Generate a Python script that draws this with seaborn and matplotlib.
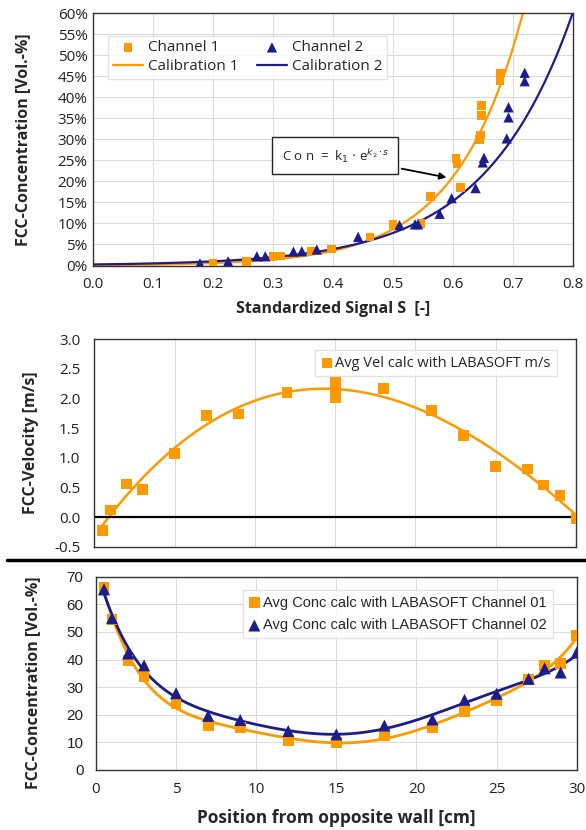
import numpy as np
import pandas as pd
import matplotlib
matplotlib.use("Agg")
import matplotlib.pyplot as plt
import seaborn as sns
from matplotlib.lines import Line2D
from matplotlib.ticker import FuncFormatter, MultipleLocator

sns.set_style("white")
plt.rcParams["font.family"] = ["Open Sans", "DejaVu Sans"]

ORANGE = "#FF9900"
NAVY = "#1C1C8A"

# --- top panel: calibration (standardized signal vs concentration in %)
ch1_s = [0.200, 0.256, 0.300, 0.312, 0.364, 0.398, 0.462, 0.500, 0.547, 0.563,
         0.605, 0.607, 0.613, 0.645, 0.646, 0.648, 0.648, 0.679, 0.680]
ch1_conc = [0.5, 1.0, 2.2, 2.3, 3.4, 3.9, 6.8, 9.7, 10.0, 16.4,
            25.4, 24.2, 18.6, 30.0, 31.0, 35.6, 38.0, 43.8, 45.7]
ch2_s = [0.178, 0.225, 0.273, 0.287, 0.334, 0.348, 0.373, 0.442, 0.511, 0.537,
         0.542, 0.578, 0.598, 0.638, 0.650, 0.652, 0.690, 0.693, 0.693, 0.720, 0.720]
ch2_conc = [0.5, 1.0, 2.2, 2.2, 3.3, 3.4, 3.8, 6.8, 9.6, 9.8,
            9.8, 12.3, 16.0, 18.4, 24.5, 25.6, 30.2, 35.2, 37.6, 43.8, 45.8]
# Con = k1 * exp(k2 * S), k1 in %
cal1_k1, cal1_k2 = 0.098, 8.95
cal2_k1, cal2_k2 = 0.254, 6.83

# --- middle panel: velocity profile
vel_pos = [0.5, 1, 2, 3, 5, 7, 9, 12, 15, 15, 15, 18, 21, 23, 25, 27, 28, 29, 30]
vel = [-0.22, 0.12, 0.56, 0.46, 1.07, 1.72, 1.74, 2.10, 2.29, 2.19, 2.01,
       2.17, 1.80, 1.38, 0.85, 0.81, 0.54, 0.37, -0.02]

# --- bottom panel: concentration profile
conc_pos = [0.5, 1, 2, 3, 5, 7, 9, 12, 15, 18, 21, 23, 25, 27, 28, 29, 30]
conc_ch01 = [66.0, 54.6, 39.7, 33.9, 24.1, 16.1, 15.5, 10.8, 9.9, 12.5,
             15.3, 21.3, 25.0, 32.9, 37.9, 38.5, 48.6]
conc_ch02 = [65.4, 55.0, 42.2, 37.9, 27.8, 19.6, 18.1, 14.1, 12.9, 16.1,
             18.3, 25.4, 27.6, 33.0, 36.8, 35.3, 42.5]

grid_kw = dict(color="#d9d9d9", lw=0.7)

fig = plt.figure(figsize=(5.86, 8.30), dpi=100)
ax1 = fig.add_axes([0.1592, 0.6801, 0.8180, 0.3042])
ax2 = fig.add_axes([0.1609, 0.3413, 0.8220, 0.2499])
ax3 = fig.add_axes([0.1638, 0.0723, 0.8203, 0.2329])

for ax in (ax1, ax2, ax3):
    for sp in ax.spines.values():
        sp.set_color("#333333")
        sp.set_linewidth(1.0)
    ax.tick_params(length=0, labelsize=11, colors="#222222")

# ---------------- top
s_grid = np.linspace(0, 0.8, 400)
sns.lineplot(x=s_grid, y=cal1_k1 * np.exp(cal1_k2 * s_grid), ax=ax1,
             color=ORANGE, lw=1.6, label="Calibration 1")
sns.lineplot(x=s_grid, y=cal2_k1 * np.exp(cal2_k2 * s_grid), ax=ax1,
             color=NAVY, lw=1.6, label="Calibration 2")
sns.scatterplot(x=ch1_s, y=ch1_conc, ax=ax1, marker="s", s=38, color=ORANGE,
                edgecolor="none", label="Channel 1", zorder=3)
sns.scatterplot(x=ch2_s, y=ch2_conc, ax=ax1, marker="^", s=55, color=NAVY,
                edgecolor="none", label="Channel 2", zorder=3)
ax1.set_xlim(0, 0.8)
ax1.set_ylim(0, 60)
ax1.xaxis.set_major_locator(MultipleLocator(0.1))
ax1.yaxis.set_major_locator(MultipleLocator(5))
ax1.xaxis.set_major_formatter(FuncFormatter(lambda v, _: f"{v:.1f}"))
ax1.yaxis.set_major_formatter(FuncFormatter(lambda v, _: f"{v:.0f}%"))
ax1.tick_params(axis="x", pad=8)
ax1.tick_params(axis="y", pad=4)
ax1.grid(True, **grid_kw)
ax1.set_axisbelow(True)
ax1.set_xlabel("Standardized Signal S  [-]", fontsize=11.5, fontweight="bold")
ax1.xaxis.set_label_coords(0.5, -0.14)
ax1.set_ylabel("FCC-Concentration [Vol.-%]", fontsize=11.5, fontweight="bold")
ax1.yaxis.set_label_coords(-0.13, 0.5)
h, l = ax1.get_legend_handles_labels()
order = [l.index(n) for n in ["Channel 1", "Calibration 1", "Channel 2", "Calibration 2"]]
ax1.legend([h[i] for i in order], [l[i] for i in order], ncol=2, loc="upper left",
           bbox_to_anchor=(0.015, 0.94), fontsize=11, frameon=True, fancybox=False,
           edgecolor="#dddddd", handlelength=2.0, handletextpad=0.3,
           columnspacing=1.2, borderpad=0.3, labelspacing=0.25)
ax1.annotate(r"C o n  =  k$_1$ $\cdot$ e$^{k_2 \cdot s}$", xy=(0.594, 20.8),
             xytext=(0.404, 26.1), fontsize=9.5, ha="center", va="center",
             bbox=dict(boxstyle="square,pad=0.7", fc="white", ec="#222222", lw=1.0),
             arrowprops=dict(arrowstyle="-|>", color="black", lw=1.3,
                             mutation_scale=10))

# ---------------- middle
v_coef = np.polyfit(vel_pos, vel, 3)
v_grid = np.linspace(min(vel_pos), max(vel_pos), 300)
sns.lineplot(x=v_grid, y=np.polyval(v_coef, v_grid), ax=ax2, color=ORANGE,
             lw=1.8)
sns.scatterplot(x=vel_pos, y=vel, ax=ax2, marker="s", s=60, color=ORANGE,
                edgecolor="none", label="Avg Vel calc with LABASOFT m/s", zorder=3)
ax2.axhline(0, color="black", lw=1.6, zorder=2)
ax2.set_xlim(0, 30)
ax2.set_ylim(-0.5, 3.0)
ax2.xaxis.set_major_locator(MultipleLocator(5))
ax2.yaxis.set_major_locator(MultipleLocator(0.5))
ax2.yaxis.set_major_formatter(FuncFormatter(lambda v, _: f"{v:.1f}"))
ax2.set_xticklabels([])
ax2.tick_params(axis="y", pad=10)
ax2.grid(True, axis="x", **grid_kw)
ax2.set_axisbelow(True)
ax2.set_ylabel("FCC-Velocity [m/s]", fontsize=11.5, fontweight="bold")
ax2.yaxis.set_label_coords(-0.115, 0.5)
ax2.legend(loc="upper right", bbox_to_anchor=(0.975, 0.985), fontsize=10.5,
           frameon=True, fancybox=False, edgecolor="#dddddd", handlelength=0.8,
           handletextpad=0.2, borderpad=0.4, markerscale=0.9)

# ---------------- bottom
c_grid = np.linspace(min(conc_pos), max(conc_pos), 400)
c1_coef = np.polyfit(conc_pos, conc_ch01, 6)
c2_coef = np.polyfit(conc_pos, conc_ch02, 6)
sns.lineplot(x=c_grid, y=np.polyval(c1_coef, c_grid), ax=ax3, color=ORANGE, lw=2.0)
sns.lineplot(x=c_grid, y=np.polyval(c2_coef, c_grid), ax=ax3, color=NAVY, lw=2.0)
sns.scatterplot(x=conc_pos, y=conc_ch01, ax=ax3, marker="s", s=60, color=ORANGE,
                edgecolor="none", label="Avg Conc calc with LABASOFT Channel 01",
                zorder=3)
sns.scatterplot(x=conc_pos, y=conc_ch02, ax=ax3, marker="^", s=75, color=NAVY,
                edgecolor="none", label="Avg Conc calc with LABASOFT Channel 02",
                zorder=4)
ax3.set_xlim(0, 30)
ax3.set_ylim(0, 70)
ax3.xaxis.set_major_locator(MultipleLocator(5))
ax3.yaxis.set_major_locator(MultipleLocator(10))
ax3.tick_params(axis="x", pad=9)
ax3.tick_params(axis="y", pad=9)
for t in ax3.get_yticklabels():
    t.set_family(["Liberation Sans", "DejaVu Sans"])
ax3.grid(True, **grid_kw)
ax3.set_axisbelow(True)
ax3.set_xlabel("Position from opposite wall [cm]", fontsize=12.5, fontweight="bold")
ax3.xaxis.set_label_coords(0.5, -0.2)
ax3.set_ylabel("FCC-Concentration [Vol.-%]", fontsize=11.5, fontweight="bold")
ax3.yaxis.set_label_coords(-0.115, 0.45)
ax3.legend(loc="upper right", bbox_to_anchor=(0.965, 0.97),
           prop={"family": ["Liberation Sans", "DejaVu Sans"], "size": 10.5},
           frameon=True, fancybox=False, edgecolor="#dddddd", handlelength=0.8,
           handletextpad=0.2, borderpad=0.4, labelspacing=0.6)

# separator between middle and bottom panels
fig.add_artist(Line2D([0.012, 1.0], [0.3253, 0.3253], transform=fig.transFigure,
                      color="black", lw=2.5))

fig.savefig("out.png", dpi=100)
